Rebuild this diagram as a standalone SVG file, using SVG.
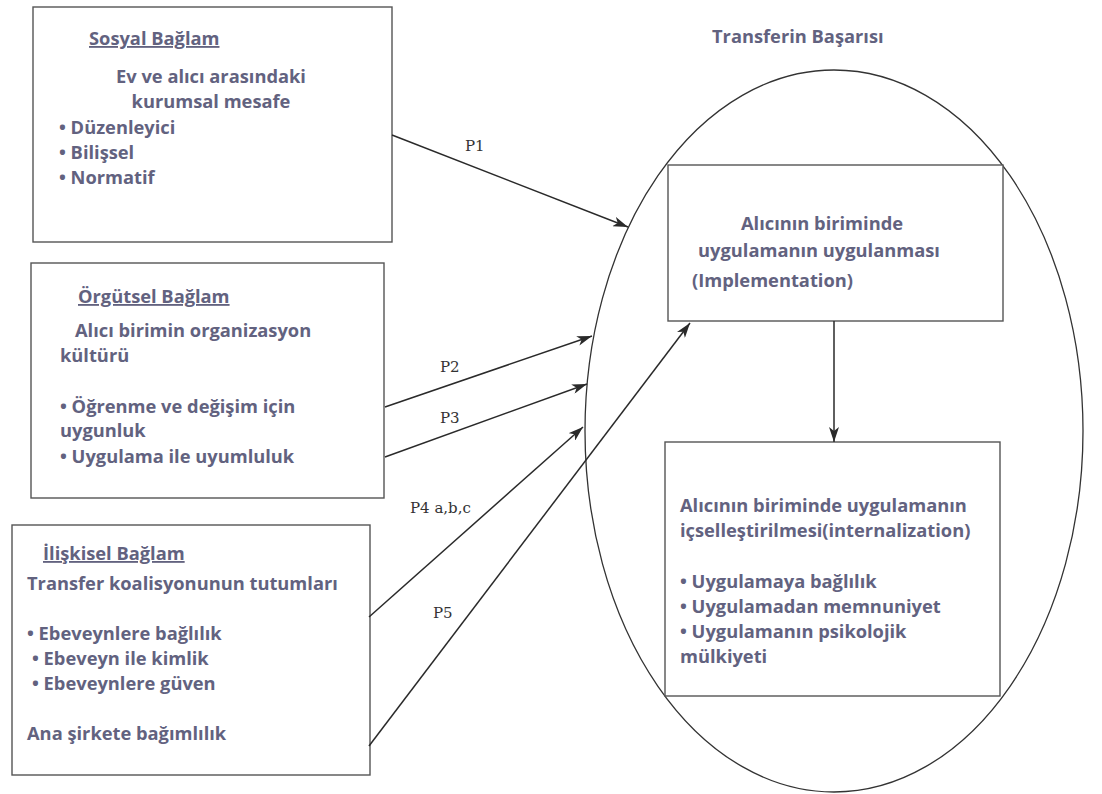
<svg xmlns="http://www.w3.org/2000/svg" width="1102" height="794" viewBox="0 0 1102 794">
<defs>
<marker id="ah" markerUnits="userSpaceOnUse" markerWidth="16" markerHeight="10" refX="15" refY="5" orient="auto">
<path d="M0,0 L15,5 L0,10 L4,5 Z" fill="#2a2a2a"/>
</marker>
<style>
.box{fill:#fff;stroke:#555;stroke-width:1.4}
.t{font-family:"Open Sans",Lato,"Liberation Sans",sans-serif;font-weight:bold;font-size:18.3px;fill:#62627f}
.u{text-decoration:underline}
.p{font-family:"DejaVu Serif","Liberation Serif",serif;font-size:15px;fill:#333}
.c{fill:none;stroke:#2a2a2a;stroke-width:1.5}
.e{fill:none;stroke:#333;stroke-width:1.3}
</style>
</defs>
<rect width="1102" height="794" fill="#fff"/>
<g id="success">
<ellipse class="e" cx="834" cy="431" rx="249" ry="361"/>
<text class="t" x="712" y="43">Transferin Başarısı</text>
</g>
<g id="social">
<rect class="box" x="33" y="7" width="359" height="235"/>
<text class="t u" x="89" y="45">Sosyal Bağlam</text>
<text class="t" x="211" y="83" text-anchor="middle">Ev ve alıcı arasındaki</text>
<text class="t" x="211" y="108" text-anchor="middle">kurumsal mesafe</text>
<text class="t" x="59" y="134">• Düzenleyici</text>
<text class="t" x="59" y="159">• Bilişsel</text>
<text class="t" x="59" y="184">• Normatif</text>
</g>
<g id="organizational">
<rect class="box" x="31" y="263" width="353" height="235"/>
<text class="t u" x="78" y="303">Örgütsel Bağlam</text>
<text class="t" x="75" y="337">Alıcı birimin organizasyon</text>
<text class="t" x="60" y="362">kültürü</text>
<text class="t" x="60" y="413">• Öğrenme ve değişim için</text>
<text class="t" x="60" y="437">uygunluk</text>
<text class="t" x="60" y="463">• Uygulama ile uyumluluk</text>
</g>
<g id="relational">
<rect class="box" x="12" y="525" width="358" height="250"/>
<text class="t u" x="43" y="560">İlişkisel Bağlam</text>
<text class="t" x="27" y="590">Transfer koalisyonunun tutumları</text>
<text class="t" x="27" y="640">• Ebeveynlere bağlılık</text>
<text class="t" x="32" y="665">• Ebeveyn ile kimlik</text>
<text class="t" x="32" y="690">• Ebeveynlere güven</text>
<text class="t" x="27" y="740">Ana şirkete bağımlılık</text>
</g>
<g id="implementation">
<rect class="box" x="668" y="165" width="335" height="156"/>
<text class="t" x="822" y="230" text-anchor="middle">Alıcının biriminde</text>
<text class="t" x="819" y="257" text-anchor="middle">uygulamanın uygulanması</text>
<text class="t" x="692" y="287">(Implementation)</text>
</g>
<g id="internalization">
<rect class="box" x="665" y="442" width="335" height="254"/>
<text class="t" x="680" y="512">Alıcının biriminde uygulamanın</text>
<text class="t" x="680" y="537">içselleştirilmesi(internalization)</text>
<text class="t" x="680" y="588">• Uygulamaya bağlılık</text>
<text class="t" x="680" y="613">• Uygulamadan memnuniyet</text>
<text class="t" x="680" y="638">• Uygulamanın psikolojik</text>
<text class="t" x="680" y="663">mülkiyeti</text>
</g>
<g id="connectors">
<line class="c" x1="392" y1="135" x2="628" y2="227" marker-end="url(#ah)"/>
<line class="c" x1="385" y1="407" x2="592" y2="336" marker-end="url(#ah)"/>
<line class="c" x1="385" y1="457" x2="587" y2="384" marker-end="url(#ah)"/>
<line class="c" x1="369" y1="617" x2="583" y2="427" marker-end="url(#ah)"/>
<line class="c" x1="369" y1="746" x2="690" y2="323" marker-end="url(#ah)"/>
<line class="c" x1="834" y1="321" x2="834" y2="442" marker-end="url(#ah)"/>
<text class="p" x="465" y="151">P1</text>
<text class="p" x="440" y="372">P2</text>
<text class="p" x="440" y="423">P3</text>
<text class="p" x="410" y="513">P4 a,b,c</text>
<text class="p" x="433" y="618">P5</text>
</g>
</svg>
